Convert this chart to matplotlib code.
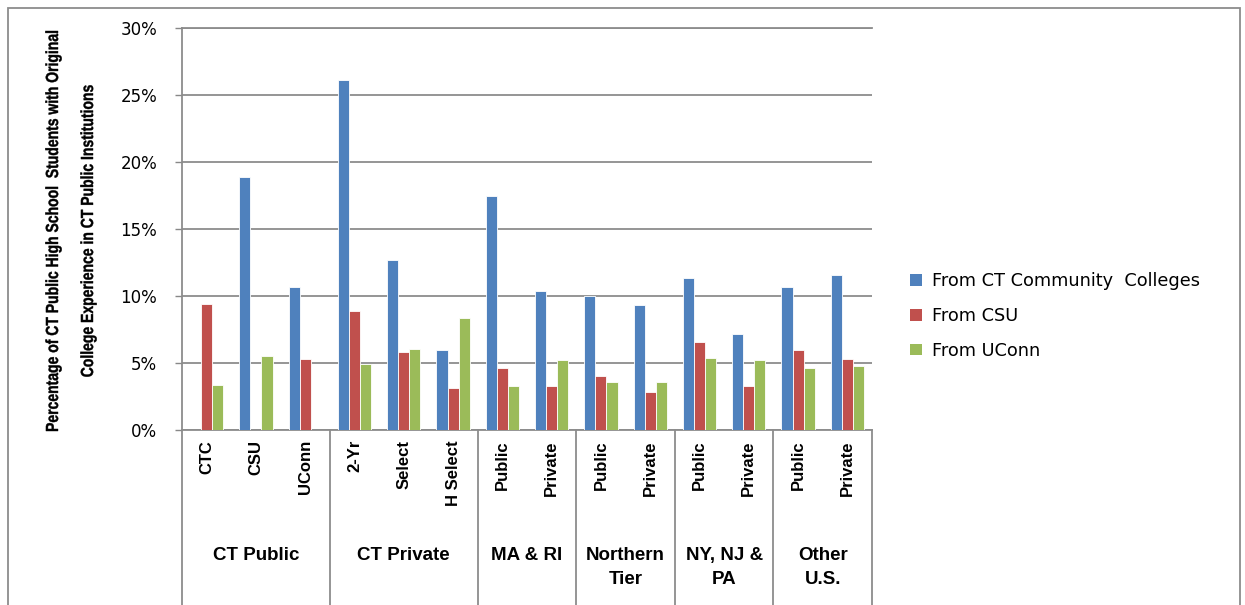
import numpy as np
import matplotlib
matplotlib.use('Agg')
import matplotlib.pyplot as plt
from matplotlib.patches import Rectangle, Patch, PathPatch
from matplotlib.textpath import TextPath
from matplotlib.font_manager import FontProperties
from matplotlib.transforms import Affine2D
import matplotlib.ticker as mticker

# Categories and groups
categories = ['CTC', 'CSU', 'UConn', '2-Yr', 'Select', 'H Select',
              'Public', 'Private', 'Public', 'Private', 'Public', 'Private',
              'Public', 'Private']
groups = ['CT Public', 'CT Private', 'MA & RI', 'Northern\nTier', 'NY, NJ &\nPA', 'Other\nU.S.']
group_sizes = [3, 3, 2, 2, 2, 2]

# Values in %
from_ctc = [0, 18.9, 10.7, 26.1, 12.65, 5.95, 17.5, 10.35, 10.0, 9.3, 11.35, 7.15, 10.7, 11.55]
from_csu = [9.4, 0, 5.3, 8.9, 5.85, 3.15, 4.65, 3.25, 4.0, 2.85, 6.6, 3.25, 5.95, 5.3]
from_uconn = [3.35, 5.5, 0, 4.9, 6.05, 8.35, 3.25, 5.2, 3.6, 3.6, 5.4, 5.2, 4.65, 4.75]

series = ['From CT Community  Colleges', 'From CSU', 'From UConn']
colors = ['#4F81BD', '#C0504D', '#9BBB59']
ylabel_lines = ['Percentage of CT Public High School  Students with Original',
                'College Experience in CT Public Institutions']

W, H = 1245, 605
fig = plt.figure(figsize=(W / 100, H / 100), dpi=100)
ax = fig.add_axes([182 / W, (H - 430) / H, 690 / W, 402 / H])

x = np.arange(len(categories))
bw = 0.225
for i, vals in enumerate([from_ctc, from_csu, from_uconn]):
    ax.bar(x + (i - 1) * bw, np.array(vals) / 100, width=bw, color=colors[i],
           edgecolor='white', linewidth=0.6, zorder=3)

ax.set_xlim(-0.5, len(categories) - 0.5)
ax.set_ylim(0, 0.30)
ax.yaxis.set_major_locator(mticker.MultipleLocator(0.05))
ax.yaxis.set_major_formatter(mticker.FuncFormatter(lambda v, p: f'{v * 100:.0f}%'))
ax.tick_params(axis='y', length=5, width=1, color='#888888', pad=13, labelsize=12)
ax.set_xticks([])
ax.grid(axis='y', color='#8c8c8c', linewidth=1.3, zorder=0)
ax.set_axisbelow(True)
for s in ['top', 'right']:
    ax.spines[s].set_visible(False)
for s in ['left', 'bottom']:
    ax.spines[s].set_color('#8c8c8c')
    ax.spines[s].set_linewidth(1.3)
ax.axhline(0.30, color='#8c8c8c', linewidth=1.3, clip_on=False, zorder=0)

# extend left axis and draw group separators below the plot
low = -(H - 430) / 402 - 0.02
trans = ax.get_xaxis_transform()
ax.plot([-0.5, -0.5], [0, low], transform=trans, color='#8c8c8c', lw=1.3, clip_on=False)
edges = np.cumsum(group_sizes) - 0.5
for e in edges:
    ax.plot([e, e], [0, low], transform=trans, color='#8c8c8c', lw=1.3, clip_on=False)

# category labels
for xi, lab in zip(x, categories):
    ax.text(xi, -10 / 402, lab, transform=trans, rotation=90, ha='center', va='top',
            fontsize=12, fontweight='bold', family=['Liberation Sans', 'DejaVu Sans'])

# group labels
starts = np.concatenate([[0], np.cumsum(group_sizes)[:-1]])
for g, st, n in zip(groups, starts, group_sizes):
    cx = st + (n - 1) / 2
    ax.text(cx, -(547 - 430) / 402, g, transform=trans, ha='center', va='top',
            fontsize=13.5, fontweight='bold', linespacing=1.5,
            family=['Liberation Sans', 'DejaVu Sans'])

# y label: condensed bold text drawn as paths (no narrow font available)
fp = FontProperties(family='Liberation Sans', weight='bold')
paths = [TextPath((0, 0), s, size=17.5, prop=fp) for s in ylabel_lines]
sx = 400 / paths[0].get_extents().width
baselines = [58, 93]       # pixel x of baseline (from left)
cy = H - 231               # pixel y of centre (from bottom)
for p, bx in zip(paths, baselines):
    ext = p.get_extents()
    tr = (Affine2D().translate(-(ext.x0 + ext.width / 2), 0)
          .scale(sx, 1).rotate_deg(90).translate(bx, cy))
    fig.add_artist(PathPatch(p, transform=tr, facecolor='black', edgecolor='black',
                             linewidth=0.3))

# legend
handles = [Patch(facecolor=c, edgecolor='none') for c in colors]
fig.legend(handles, series, loc='upper left', bbox_to_anchor=(894 / W, 1 - 256 / H),
           frameon=False, fontsize=12.8, handlelength=0.65, handleheight=0.65,
           handletextpad=0.6, labelspacing=0.95)

# outer border
fig.patches.append(Rectangle((8 / W, -0.05), (1240 - 8) / W, (H - 8) / H + 0.05,
                             transform=fig.transFigure, fill=False,
                             edgecolor='#8c8c8c', linewidth=1.3))

fig.savefig('out.png', dpi=100)
